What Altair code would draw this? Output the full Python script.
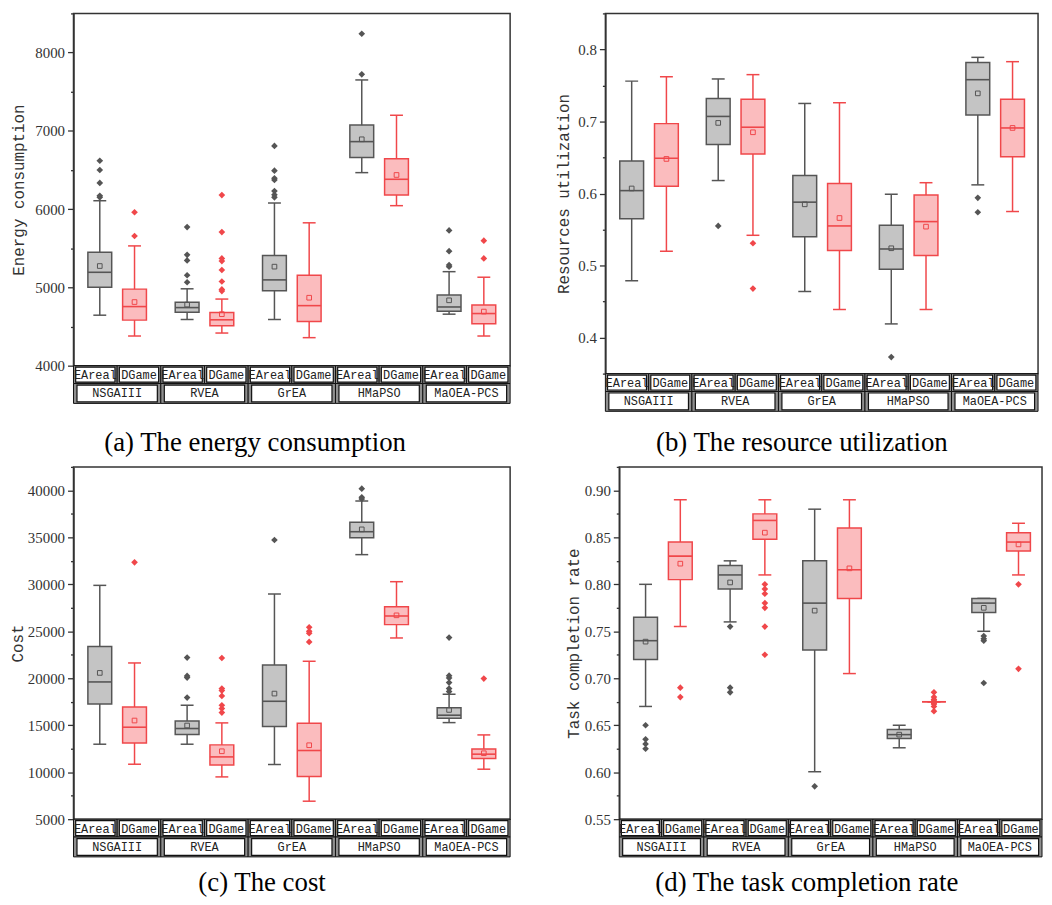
import altair as alt
import pandas as pd

ALGS = ["NSGAIII", "RVEA", "GrEA", "HMaPSO", "MaOEA-PCS"]
METHODS = ["EAreal", "DGame"]

# ---------------- (a) energy consumption ----------------
energy_lo = [4645, 4379, 4590, 4417, 4590, 4358, 6466, 6044, 4658, 4379]
energy_q1 = [5003, 4582, 4683, 4510, 4957, 4565, 6660, 6179, 4695, 4535]
energy_med = [5193, 4755, 4742, 4586, 5096, 4767, 6862, 6381, 4750, 4666]
energy_q3 = [5450, 4978, 4809, 4679, 5408, 5155, 7073, 6643, 4902, 4776]
energy_hi = [6107, 5530, 4982, 4851, 6078, 5825, 7650, 7199, 5201, 5130]
energy_mean = [5273, 4813, 4780, 4658, 5265, 4868, 6892, 6436, 4835, 4691]
energy_out = [
    [6618, 6500, 6335, 6170, 6150],
    [5960, 5657],
    [5770, 5416, 5345, 5155, 5066],
    [6179, 5707, 5370, 5336, 5222, 5075, 4974, 4953],
    [6807, 6491, 6394, 6373, 6230, 6183, 6150],
    [],
    [8240, 7722],
    [],
    [5728, 5463, 5286, 5265],
    [5597, 5370],
]
energy_ticks = [4000, 4500, 5000, 5500, 6000, 6500, 7000, 7500, 8000, 8500]

# ---------------- (b) resource utilization ----------------
res_lo = [0.479, 0.520, 0.618, 0.542, 0.464, 0.439, 0.419, 0.439, 0.612, 0.575]
res_q1 = [0.565, 0.610, 0.668, 0.655, 0.540, 0.521, 0.495, 0.514, 0.709, 0.651]
res_med = [0.604, 0.649, 0.707, 0.692, 0.588, 0.555, 0.523, 0.561, 0.758, 0.691]
res_q3 = [0.645, 0.697, 0.732, 0.731, 0.625, 0.614, 0.556, 0.598, 0.782, 0.731]
res_hi = [0.756, 0.762, 0.759, 0.765, 0.725, 0.726, 0.599, 0.615, 0.789, 0.783]
res_mean = [0.607, 0.648, 0.698, 0.685, 0.585, 0.566, 0.524, 0.554, 0.739, 0.691]
res_out = [[], [], [0.555], [0.531, 0.468], [], [], [0.373], [], [0.594, 0.574], []]
res_ticks = [0.35, 0.40, 0.45, 0.50, 0.55, 0.60, 0.65, 0.70, 0.75, 0.80, 0.85]

# ---------------- (c) cost ----------------
cost_lo = [12980, 10850, 12980, 9500, 10820, 6915, 33160, 24290, 15280, 10320]
cost_q1 = [17270, 13120, 14010, 10780, 14860, 9540, 34970, 25710, 15750, 11450]
cost_med = [19610, 14790, 14650, 11630, 17550, 12310, 35600, 26630, 16070, 11920]
cost_q3 = [23370, 16950, 15460, 12910, 21420, 15210, 36600, 27620, 16850, 12480]
cost_hi = [29890, 21630, 17130, 15250, 28970, 21810, 38870, 30280, 18300, 13970]
cost_mean = [20570, 15500, 14970, 12230, 18370, 12870, 35850, 26700, 16630, 12020]
cost_out = [
    [],
    [32340],
    [22200, 20250, 20070, 17940],
    [22160, 18900, 18690, 18120, 17130, 16770, 16350],
    [34720],
    [25430, 25000, 24790, 23870],
    [40180, 39260, 39080],
    [],
    [24330, 20280, 20040, 19540, 18900, 18580],
    [19970],
]
cost_ticks = [5000, 7500, 10000, 12500, 15000, 17500, 20000, 22500, 25000,
              27500, 30000, 32500, 35000, 37500, 40000, 42500]

# ---------------- (d) task completion rate ----------------
task_lo = [0.670, 0.755, 0.760, 0.810, 0.6005, 0.705, 0.626, 0.675, 0.750, 0.810]
task_q1 = [0.720, 0.805, 0.795, 0.848, 0.730, 0.785, 0.636, 0.675, 0.770, 0.8355]
task_med = [0.740, 0.830, 0.810, 0.868, 0.780, 0.8155, 0.640, 0.675, 0.780, 0.845]
task_q3 = [0.765, 0.845, 0.820, 0.875, 0.825, 0.860, 0.6455, 0.675, 0.785, 0.855]
task_hi = [0.800, 0.890, 0.825, 0.890, 0.880, 0.890, 0.650, 0.675, 0.785, 0.865]
task_mean = [0.739, 0.822, 0.802, 0.855, 0.772, 0.817, 0.640, 0.675, 0.775, 0.8425]
task_out = [
    [0.650, 0.635, 0.630, 0.625],
    [0.690, 0.680],
    [0.755, 0.690, 0.685],
    [0.800, 0.795, 0.790, 0.780, 0.775, 0.755, 0.725],
    [0.585],
    [],
    [],
    [0.685, 0.680, 0.6775, 0.6725, 0.670, 0.665],
    [0.745, 0.742, 0.740, 0.695],
    [0.800, 0.710],
]
task_ticks = [0.55, 0.575, 0.60, 0.625, 0.65, 0.675, 0.70, 0.725, 0.75, 0.775,
              0.80, 0.825, 0.85, 0.875, 0.90, 0.925]

GRAY_LINE = "#555555"
RED_LINE = "#f0474a"
GRAY_FILL = "#c4c4c4"
RED_FILL = "#fbbcbe"
GRP = [f"{a}|{m}" for a in ALGS for m in METHODS]
GRP_LABEL = [m for a in ALGS for m in METHODS]


def frames(lo, q1, med, q3, hi, mean, outs):
    rows, orows = [], []
    i = 0
    for a in ALGS:
        for m in METHODS:
            rows.append(dict(alg=a, method=m, lo=lo[i], q1=q1[i], med=med[i],
                             q3=q3[i], hi=hi[i], mean=mean[i]))
            for v in outs[i]:
                orows.append(dict(alg=a, method=m, value=v))
            i += 1
    return pd.DataFrame(rows), pd.DataFrame(orows)


def panel(data, ticks, domain, fmt, major_test, ytitle, caption, W, H, title_pad,
          cap_dx, cap_dy):
    df, odf = frames(*data)
    yscale = alt.Scale(domain=domain, nice=False, zero=False)
    yaxis = alt.Axis(
        values=ticks, format=fmt,
        labelExpr=f"({major_test}) ? datum.label : ''",
        labelFontSize={"condition": {"test": major_test, "value": 15}, "value": 0},
        tickSize={"condition": {"test": major_test, "value": 6}, "value": 3},
        tickWidth=1.3, tickColor="#333", domainColor="#333", domainWidth=1.5,
        grid=False, labelFont="Liberation Serif",
        labelColor="#333", labelPadding=3,
        titleFont="Liberation Mono", titleFontSize=16, titleFontWeight="normal",
        titleColor="#333", titlePadding=title_pad,
    )

    def Y(f):
        return alt.Y(f"{f}:Q", scale=yscale, axis=yaxis, title=ytitle)

    X = alt.X("alg:N", sort=ALGS, scale=alt.Scale(domain=ALGS, paddingInner=0, paddingOuter=0), axis=None)
    XO = alt.XOffset("method:N", sort=METHODS,
                     scale=alt.Scale(domain=METHODS, paddingInner=0, paddingOuter=0.257))
    col = alt.Color("method:N", scale=alt.Scale(domain=METHODS, range=[GRAY_LINE, RED_LINE]), legend=None)
    fill = alt.Fill("method:N", scale=alt.Scale(domain=METHODS, range=[GRAY_FILL, RED_FILL]), legend=None)
    stroke = alt.Stroke("method:N", scale=alt.Scale(domain=METHODS, range=[GRAY_LINE, RED_LINE]), legend=None)

    base = alt.Chart(df)
    whisk = base.mark_rule(strokeWidth=1.5).encode(x=X, xOffset=XO, y=Y("lo"), y2="hi:Q", color=col)
    cap_hi = base.mark_tick(size=13, thickness=1.5, opacity=1).encode(x=X, xOffset=XO, y=Y("hi"), color=col)
    cap_lo = base.mark_tick(size=13, thickness=1.5, opacity=1).encode(x=X, xOffset=XO, y=Y("lo"), color=col)
    box = base.mark_bar(size=24, strokeWidth=1.5).encode(
        x=X, xOffset=XO, y=Y("q1"), y2="q3:Q", fill=fill, stroke=stroke)
    medt = base.mark_tick(size=24, thickness=1.6, opacity=1).encode(x=X, xOffset=XO, y=Y("med"), color=col)
    meanp = base.mark_point(shape="square", size=22, filled=False, strokeWidth=1, opacity=1).encode(
        x=X, xOffset=XO, y=Y("mean"), color=col)
    outp = alt.Chart(odf).mark_point(shape="diamond", filled=True, size=45, opacity=1).encode(
        x=X, xOffset=XO, y=Y("value"), color=col)
    boxes = alt.layer(whisk, cap_hi, cap_lo, box, medt, meanp, outp)

    # category table under the plot
    dfm = pd.DataFrame({"grp": GRP, "label": GRP_LABEL})
    dfa = pd.DataFrame({"alg": ALGS})
    Xg = alt.X("grp:N", sort=GRP, scale=alt.Scale(domain=GRP, paddingInner=0, paddingOuter=0), axis=None)
    Xa = alt.X("alg:N", sort=ALGS, scale=alt.Scale(domain=ALGS, paddingInner=0, paddingOuter=0), axis=None)
    tm = alt.Chart(dfm)
    ta = alt.Chart(dfa)
    m_outer = tm.mark_bar(width=alt.RelativeBandSize(1), fill="#8f8f8f", stroke="#111", strokeWidth=1).encode(
        x=Xg, y=alt.value(H), y2=alt.value(H + 18))
    m_inner = tm.mark_bar(width=alt.RelativeBandSize(0.9), fill="white", stroke="#111", strokeWidth=1.2).encode(
        x=Xg, y=alt.value(H + 1.5), y2=alt.value(H + 16.5))
    m_text = tm.mark_text(font="Liberation Mono", fontSize=12, color="#222", baseline="middle").encode(
        x=Xg, y=alt.value(H + 9.5), text="label:N")
    a_outer = ta.mark_bar(width=alt.RelativeBandSize(1), fill="#8f8f8f", stroke="#111", strokeWidth=1).encode(
        x=Xa, y=alt.value(H + 18), y2=alt.value(H + 38))
    a_inner = ta.mark_bar(width=alt.RelativeBandSize(0.92), fill="white", stroke="#111", strokeWidth=1.2).encode(
        x=Xa, y=alt.value(H + 19.5), y2=alt.value(H + 36.5))
    a_text = ta.mark_text(font="Liberation Mono", fontSize=12, color="#222", baseline="middle").encode(
        x=Xa, y=alt.value(H + 28), text="alg:N")

    cap = alt.Chart(pd.DataFrame({"caption": [caption]})).mark_text(
        font="Liberation Serif", fontSize=27, color="#000", baseline="middle", align="center").encode(
        x=alt.value(W / 2 + cap_dx), y=alt.value(H + cap_dy), text="caption:N")

    return alt.layer(boxes, m_outer, m_inner, m_text, a_outer, a_inner, a_text, cap).resolve_scale(
        x="independent").properties(width=W, height=H)


pa = panel((energy_lo, energy_q1, energy_med, energy_q3, energy_hi, energy_mean, energy_out),
           energy_ticks, [4000, 8500], "d", "datum.value % 1000 === 0",
           "Energy consumption", "(a) The energy consumption", 440, 355, 8, -37, 78)
pb = panel((res_lo, res_q1, res_med, res_q3, res_hi, res_mean, res_out),
           res_ticks, [0.35, 0.85], ".1f", "abs(datum.value*10 - round(datum.value*10)) < 1e-6",
           "Resources utilization", "(b) The resource utilization", 436, 363, 6, -20, 70)
pc = panel((cost_lo, cost_q1, cost_med, cost_q3, cost_hi, cost_mean, cost_out),
           cost_ticks, [5000, 42500], "d", "datum.value % 5000 === 0",
           "Cost", "(c) The cost", 440, 355, 2, -30, 64)
pd_ = panel((task_lo, task_q1, task_med, task_q3, task_hi, task_mean, task_out),
            task_ticks, [0.55, 0.925], ".2f", "abs(datum.value*20 - round(datum.value*20)) < 1e-6",
            "Task completion rate", "(d) The task completion rate", 426, 355, 3, -24, 64)

chart = alt.vconcat(
    alt.hconcat(pa, pb, spacing=43),
    alt.hconcat(pc, pd_, spacing=53),
    spacing=8,
).configure_view(stroke="#333", strokeWidth=1.5).properties(
    padding={"left": 0, "top": 0, "right": 0, "bottom": 0})

chart.save("out.html", embed_options={"renderer": "svg", "actions": False})
